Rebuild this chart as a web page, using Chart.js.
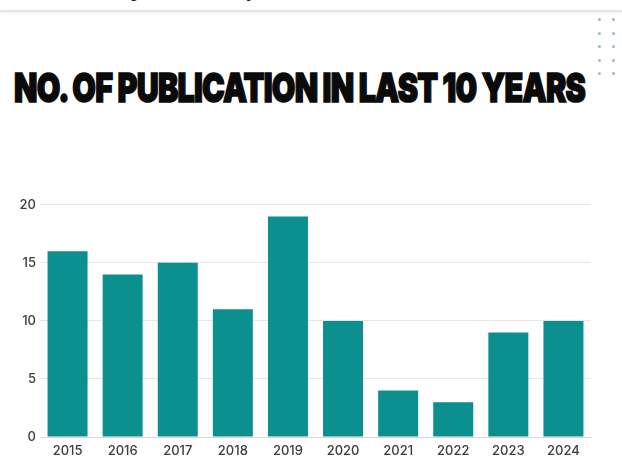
<!DOCTYPE html>
<html>
<head>
<meta charset="utf-8">
<script src="https://cdn.jsdelivr.net/npm/chart.js@4"></script>
<style>
  html, body { margin: 0; padding: 0; background: #fff; }
  body { width: 622px; height: 456px; position: relative; overflow: hidden; }
  #cut { position: absolute; left: 0; top: 0; width: 622px; height: 9px; overflow: hidden; }
  #cut span { position: absolute; left: 131px; top: -24px; font: 22px "Liberation Serif", serif; color: #111; white-space: nowrap; }
  #rule { position: absolute; left: 0; top: 10px; width: 622px; height: 2px; background: #e4e4e4; box-shadow: 0 1px 2px rgba(0,0,0,0.08); }
  .dot { position: absolute; width: 3px; height: 3px; border-radius: 50%; background: #9cbcbc; }
  #title { position: absolute; left: 14px; top: 68px; font: 900 40px "Inter", "DejaVu Sans", sans-serif; line-height: 1; color: #0a0a0a; white-space: nowrap; transform-origin: 0 0; -webkit-text-stroke: 1.6px #0a0a0a; letter-spacing: -1px; }
  #wrap { position: absolute; left: 0; top: 193px; width: 622px; height: 263px; }
</style>
</head>
<body>
<div id="cut"><span>publication by</span></div>
<div id="rule"></div>
<div id="title">NO. OF PUBLICATION IN LAST 10 YEARS</div>
<div id="wrap"><canvas id="pubChart"></canvas></div>
<script>
document.addEventListener('DOMContentLoaded', function() {

var years = ['2015', '2016', '2017', '2018', '2019', '2020', '2021', '2022', '2023', '2024'];
var publications = [16, 14, 15, 11, 19, 10, 4, 3, 9, 10];
var yTicks = [0, 5, 10, 15, 20];

var barColor = '#0b8f8f';
var tickColor = '#3d3d3d';

// decorative dots top right
var dotCols = [598, 612];
var dotRows = [18, 32, 45, 59, 72];
dotRows.forEach(function(y) {
    dotCols.forEach(function(x) {
        var d = document.createElement('div');
        d.className = 'dot';
        d.style.left = x + 'px';
        d.style.top = y + 'px';
        document.body.appendChild(d);
    });
});

// squeeze title to the width it has in the picture
var title = document.getElementById('title');
var w = title.getBoundingClientRect().width;
title.style.transform = 'scaleX(' + (571 / w) + ')';

var ctx = document.getElementById('pubChart').getContext('2d');

var pubChart = new Chart(ctx, {
    type: 'bar',
    data: {
        labels: years,
        datasets: [{
            label: 'Publications',
            data: publications,
            backgroundColor: barColor,
            borderWidth: 0,
            categoryPercentage: 1,
            barPercentage: 0.726
        }]
    },
    options: {
        responsive: true,
        maintainAspectRatio: false,
        animation: false,
        layout: {
            padding: { top: 8, right: 31, left: 0, bottom: 0 }
        },
        scales: {
            x: {
                grid: { display: false, drawTicks: false },
                border: { display: true, color: '#d9d9d9', width: 1 },
                ticks: {
                    color: tickColor,
                    font: { family: 'Inter', size: 13, weight: 500 },
                    padding: 6,
                    maxRotation: 0
                },
                afterFit: function(scale) { scale.height = 19; }
            },
            y: {
                min: 0,
                max: 20,
                grid: { color: '#e6e6e6', drawTicks: false },
                border: { display: false },
                afterBuildTicks: function(scale) {
                    scale.ticks = yTicks.map(function(v) { return { value: v }; });
                },
                ticks: {
                    color: tickColor,
                    font: { family: 'Inter', size: 13, weight: 500 },
                    padding: 4
                },
                afterFit: function(scale) { scale.width = 40; }
            }
        },
        plugins: {
            legend: { display: false },
            tooltip: { enabled: false }
        }
    }
});

});
</script>
</body>
</html>
